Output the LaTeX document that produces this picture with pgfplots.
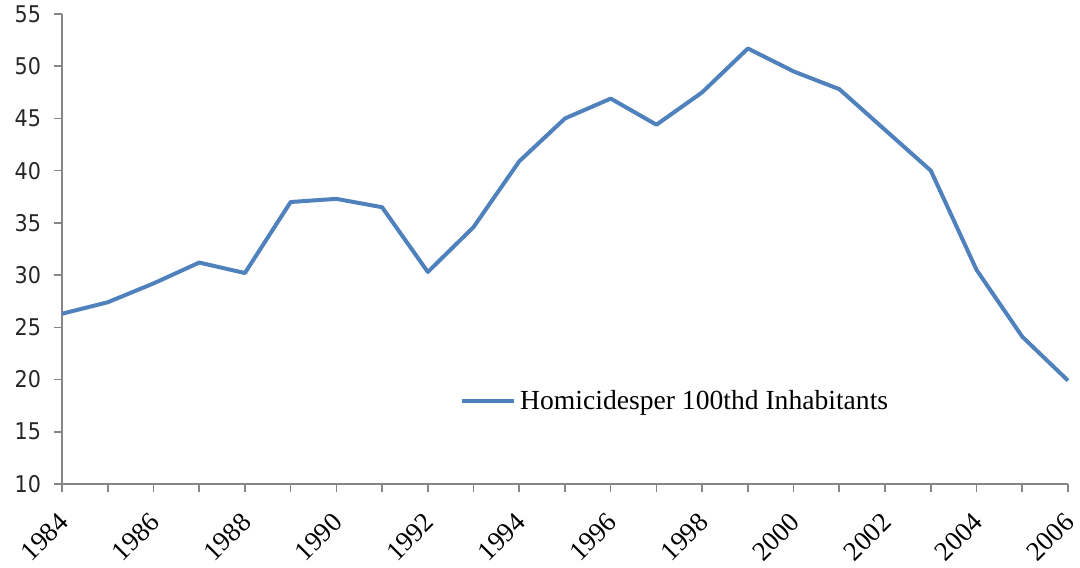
\documentclass[border=0pt]{standalone}
\usepackage{fontspec}
\setmainfont{Liberation Serif}
\newfontfamily\tickfont{DejaVu Sans Condensed}
\usepackage{pgfplots}
\pgfplotsset{compat=1.18}
\definecolor{xlblue}{RGB}{79,129,189}
\definecolor{axgray}{RGB}{134,134,134}
\begin{document}
\begin{tikzpicture}
\begin{axis}[
  name=ax,
  scale only axis,
  width=503pt, height=235pt,
  xmin=1984, xmax=2006, ymin=10, ymax=55,
  axis x line*=bottom, axis y line*=left,
  axis line style={axgray, line width=0.8pt},
  tick style={axgray, line width=0.8pt},
  tick align=outside,
  major tick length=4pt,
  xtick={1984,...,2006},
  xticklabels={1984,,1986,,1988,,1990,,1992,,1994,,1996,,1998,,2000,,2002,,2004,,2006},
  ytick={10,15,...,55},
  yticklabel style={font=\tickfont\fontsize{11.5}{12}\selectfont, color=black!85, xshift=-3pt},
  xticklabel style={font=\fontsize{13.5}{14}\selectfont, xshift=-2.5pt, yshift=-8pt, rotate=45, anchor=north east, inner sep=1pt},
  /pgf/number format/assume math mode=true,
  /pgf/number format/1000 sep={},
  legend style={draw=none, fill=none, at={(axis cs:1992.7,17.95)}, anchor=west,
    font=\fontsize{13.8}{14}\selectfont, inner sep=0pt},
  legend cell align=left,
  legend image code/.code={\draw[#1] (0pt,0pt) -- (26pt,0pt);},
  clip=false,
]
\addplot[xlblue, line width=2pt, line join=round] coordinates {
(1984,26.3) (1985,27.4) (1986,29.2) (1987,31.2) (1988,30.2) (1989,37.0)
(1990,37.3) (1991,36.5) (1992,30.3) (1993,34.6) (1994,40.9) (1995,45.0)
(1996,46.9) (1997,44.4) (1998,47.5) (1999,51.7) (2000,49.5) (2001,47.8)
(2002,43.9) (2003,40.0) (2004,30.5) (2005,24.1) (2006,19.9)};
\addlegendentry{Homicidesper 100thd Inhabitants}
\end{axis}
\pgfresetboundingbox
\useasboundingbox ([shift={(-31pt,-41.5pt)}]ax.south west) rectangle ([shift={(6pt,7pt)}]ax.north east);
\end{tikzpicture}
\end{document}
